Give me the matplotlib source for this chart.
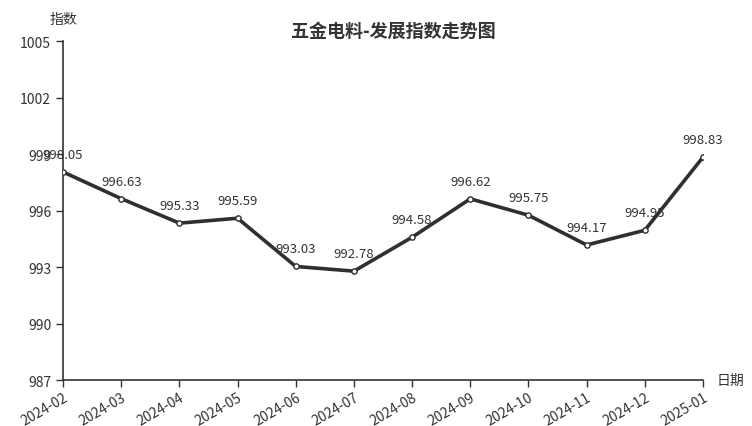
import matplotlib.pyplot as plt

plt.rcParams['font.family'] = ['Noto Sans CJK SC', 'DejaVu Sans']

months = ["2024-02", "2024-03", "2024-04", "2024-05", "2024-06", "2024-07",
          "2024-08", "2024-09", "2024-10", "2024-11", "2024-12", "2025-01"]
index_values = [998.05, 996.63, 995.33, 995.59, 993.03, 992.78,
                994.58, 996.62, 995.75, 994.17, 994.95, 998.83]
y_ticks = [987, 990, 993, 996, 999, 1002, 1005]

TEXT = "#333333"
LINE = "#2f2f2f"

fig = plt.figure(figsize=(7.52, 4.27), dpi=100)
ax = fig.add_axes([0.0838, 0.1077, 0.851, 0.7939])

x = list(range(len(months)))
ax.plot(x, index_values, color=LINE, linewidth=2.6, marker="o", markersize=3.8,
        markerfacecolor="white", markeredgecolor=LINE, markeredgewidth=1.0, zorder=3)

for xi, v in zip(x, index_values):
    ax.annotate(f"{v:.2f}", (xi, v), xytext=(0, 8), textcoords="offset points",
                ha="center", va="bottom", fontsize=9.5, color=TEXT)

ax.set_xlim(0, len(months) - 1)
ax.set_ylim(987, 1005)
ax.set_yticks(y_ticks)
ax.set_yticklabels([str(t) for t in y_ticks], fontsize=10, color=TEXT)
ax.set_xticks(x)
ax.set_xticklabels(months, rotation=30, ha="right", rotation_mode="anchor",
                   fontsize=10, color=TEXT)

for side in ("top", "right"):
    ax.spines[side].set_visible(False)
for side in ("left", "bottom"):
    ax.spines[side].set_color(TEXT)
    ax.spines[side].set_linewidth(1.2)
ax.tick_params(axis="both", colors=TEXT, length=5, width=1)
ax.tick_params(axis="x", pad=2)

ax.text(0, 1.045, "指数", transform=ax.transAxes, ha="center", va="bottom",
        fontsize=10, color=TEXT)
ax.text(1.022, 0.0, "日期", transform=ax.transAxes, ha="left", va="center",
        fontsize=10, color=TEXT)

fig.suptitle("五金电料-发展指数走势图", x=0.523, y=0.948, fontsize=13,
             fontweight="bold", color=TEXT)

fig.savefig("out.png", dpi=100)
